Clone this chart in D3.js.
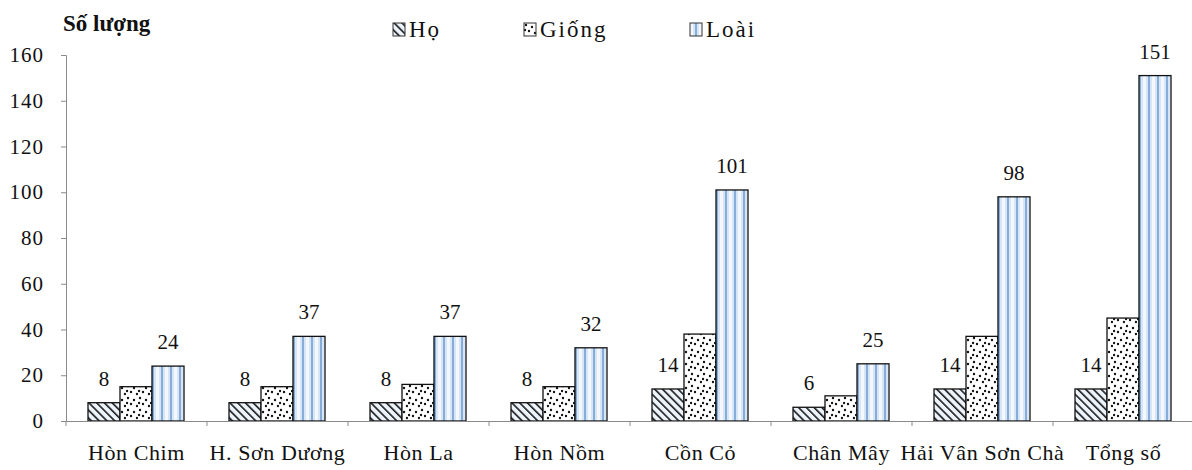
<!DOCTYPE html>
<html>
<head>
<meta charset="utf-8">
<script src="https://cdn.jsdelivr.net/npm/d3@7/dist/d3.min.js"></script>
<style>
  html, body { margin: 0; padding: 0; background: #fff; }
  svg { display: block; }
</style>
</head>
<body>
<svg id="chart" width="1192" height="470"></svg>
<script>
// Sites surveyed and the counts of families (Họ), genera (Giống) and species (Loài)
const categories = ["Hòn Chim", "H. Sơn Dương", "Hòn La", "Hòn Nồm", "Cồn Cỏ", "Chân Mây", "Hải Vân Sơn Chà", "Tổng số"];
const seriesNames = ["Họ", "Giống", "Loài"];
const hoValues    = [8, 8, 8, 8, 14, 6, 14, 14];
const giongValues = [15, 15, 16, 15, 38, 11, 37, 45];
const loaiValues  = [24, 37, 37, 32, 101, 25, 98, 151];
const yTicks = [0, 20, 40, 60, 80, 100, 120, 140, 160];
const labelledSeries = ["Họ", "Loài"];

const seriesValues = { "Họ": hoValues, "Giống": giongValues, "Loài": loaiValues };
const serif = "'Liberation Serif'";

const svg = d3.select("#chart");
const defs = svg.append("defs");

// Hatched fill: diagonal black strokes
const pHo = defs.append("pattern").attr("id", "pat-ho")
  .attr("patternUnits", "userSpaceOnUse").attr("width", 5.5).attr("height", 5.5)
  .attr("patternTransform", "rotate(-45)");
pHo.append("rect").attr("width", 5.5).attr("height", 5.5).attr("fill", "#edf3fb");
pHo.append("rect").attr("x", 0).attr("y", 0).attr("width", 1.6).attr("height", 5.5).attr("fill", "#1a1a1a");

// Dotted fill
const pGiong = defs.append("pattern").attr("id", "pat-giong")
  .attr("patternUnits", "userSpaceOnUse").attr("width", 12).attr("height", 12);
pGiong.append("rect").attr("width", 12).attr("height", 12).attr("fill", "#fff");
[[2, 2], [8, 4], [5, 8], [11, 10], [1, 7]].forEach(([cx, cy]) => {
  pGiong.append("circle").attr("cx", cx).attr("cy", cy).attr("r", 1.2).attr("fill", "#111");
});

// Vertical stripe fill in pale blue
const pLoai = defs.append("pattern").attr("id", "pat-loai")
  .attr("patternUnits", "userSpaceOnUse").attr("width", 9).attr("height", 10);
pLoai.append("rect").attr("width", 9).attr("height", 10).attr("fill", "#d6e6f7");
pLoai.append("rect").attr("x", 0).attr("width", 3).attr("height", 10).attr("fill", "#f4f8fd");
pLoai.append("rect").attr("x", 5).attr("width", 2).attr("height", 10).attr("fill", "#86acd9");

const fills = { "Họ": "url(#pat-ho)", "Giống": "url(#pat-giong)", "Loài": "url(#pat-loai)" };

const x0 = d3.scaleBand().domain(categories).range([66, 1194]).paddingInner(0).paddingOuter(0);
const x1 = d3.scaleBand().domain(seriesNames).range([22, 118]).padding(0);
const y = d3.scaleLinear().domain([0, 160]).range([421, 55]);

const axisColor = "#8a8a8a";

// Y axis
const yAxis = svg.append("g").attr("transform", "translate(66,0)")
  .call(d3.axisLeft(y).tickValues(yTicks).tickSize(5).tickPadding(6));
yAxis.attr("font-family", null);
yAxis.select(".domain").attr("stroke", axisColor);
yAxis.selectAll(".tick line").attr("stroke", axisColor);
yAxis.selectAll(".tick text").attr("font-size", 21).attr("fill", "#111")
  .attr("letter-spacing", 1).attr("x", -22);

// Bars
const groups = svg.append("g").selectAll("g")
  .data(categories).join("g")
  .attr("transform", d => `translate(${x0(d)},0)`);

groups.selectAll("rect")
  .data((c, i) => seriesNames.map(s => ({ s, v: seriesValues[s][i] })))
  .join("rect")
  .attr("x", d => x1(d.s))
  .attr("y", d => y(d.v))
  .attr("width", x1.bandwidth())
  .attr("height", d => y(0) - y(d.v))
  .attr("fill", d => fills[d.s])
  .attr("stroke", "#111")
  .attr("stroke-width", 1.3);

// Value labels
groups.selectAll("text.val")
  .data((c, i) => labelledSeries.map(s => ({ s, v: seriesValues[s][i] })))
  .join("text").attr("class", "val")
  .attr("x", d => x1(d.s) + x1.bandwidth() / 2)
  .attr("y", d => y(d.v) - 17)
  .attr("text-anchor", "middle")
  .attr("font-size", 21)
  .attr("fill", "#111")
  .text(d => d.v);

// X axis
const xAxis = svg.append("g").attr("transform", "translate(0,421)")
  .call(d3.axisBottom(x0).tickSize(0).tickPadding(0));
xAxis.select(".domain").attr("stroke", axisColor);
xAxis.selectAll(".tick text").remove();
xAxis.selectAll(".tick line").remove();
xAxis.selectAll("line.sep")
  .data(categories).join("line").attr("class", "sep")
  .attr("x1", d => x0(d)).attr("x2", d => x0(d))
  .attr("y1", 0).attr("y2", 5).attr("stroke", axisColor);

svg.append("g").selectAll("text")
  .data(categories).join("text")
  .attr("x", d => x0(d) + x0.bandwidth() / 2)
  .attr("y", 460)
  .attr("text-anchor", "middle")
  .attr("font-size", 22)
  .attr("letter-spacing", 0.6)
  .attr("fill", "#111")
  .text(d => d);

// Axis title
svg.append("text")
  .attr("x", 63).attr("y", 31)
  .attr("font-size", 23).attr("font-weight", "bold")
  .attr("fill", "#111")
  .text("Số lượng");

// Legend
const legendX = [393, 524, 690];
const legend = svg.append("g").selectAll("g")
  .data(seriesNames).join("g")
  .attr("transform", (d, i) => `translate(${legendX[i]},23)`);
legend.append("rect")
  .attr("width", 12).attr("height", 13)
  .attr("fill", d => fills[d]).attr("stroke", "#333").attr("stroke-width", 1);
legend.append("text")
  .attr("x", 16).attr("y", 14)
  .attr("font-size", 23).attr("letter-spacing", 2)
  .attr("fill", "#111")
  .text(d => d);

// Serif face on every label
svg.selectAll("text").style("font-family", serif);
</script>
</body>
</html>
